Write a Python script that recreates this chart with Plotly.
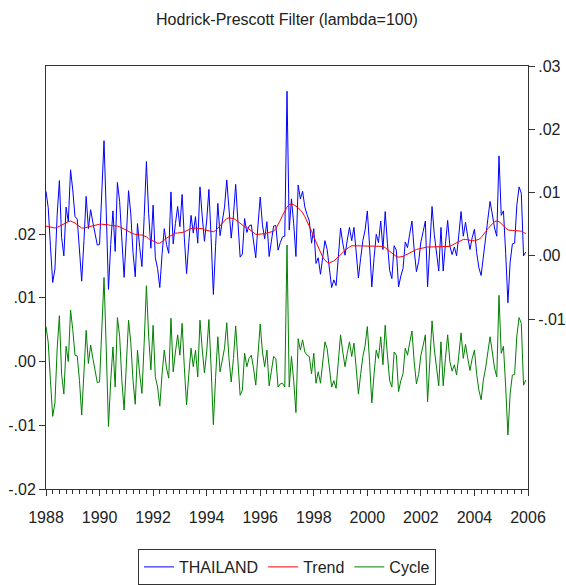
import plotly.graph_objects as go

# Monthly observations 1988M01 .. 2005M12, values in units of 0.001
START_YEAR = 1988
# HP cycle (left axis)
cycle_k = [
    5.5, 3.0, -3.0, -8.6, -6.5, 2.0, 7.2, -2.0, -5.1, 2.4, 0.0, 8.1,
    5.0, 1.0, 0.9, -3.0, -8.4, -2.0, 4.9, -0.3, 2.6, 0.5, -1.5, -3.3,
    -3.2, 4.0, 13.2, 2.0, -10.2, -3.0, 2.3, -4.0, 6.9, 4.0, -3.0, -7.6,
    -1.0, 6.5, 3.0, -3.0, -6.7, 1.8, -2.0, -5.0, 3.0, 11.9, 4.0, -1.3,
    5.7, -2.4, -4.0, -7.0, -2.0, 1.8, -1.0, -2.6, 6.8, -1.6, 1.5, 4.2,
    1.0, 6.0, -1.0, -6.8, -2.0, 2.1, -0.8, 1.8, -2.4, 6.5, 2.0, -1.8,
    1.5, 6.6, -1.0, -9.9, -2.5, 3.9, -1.6, 0.5, 2.1, 6.1, 0.5, -3.2,
    0.5, 5.6, 0.0, -5.3, -4.5, 1.3, -0.8, 0.5, 1.0, -1.0, -3.7, 1.5,
    5.9, 1.5, -0.8, 1.8, -3.8, -1.5, 0.8, 0.5, -4.0, -3.5, -3.4, -4.0,
    18.3, -4.0, 0.8, -3.0, -8.0, 3.6, 1.8, 3.4, 1.5, 1.0, 0.8, -1.9,
    1.3, -3.4, -1.6, -3.4, 0.0, 3.1, 2.0, -1.0, -4.0, -3.0, -4.2, 0.0,
    4.2, 1.5, -0.8, 1.3, 3.1, 0.8, 2.9, -1.0, -5.1, -2.0, 0.8, 2.5,
    5.5, 0.0, -6.5, -2.0, 1.8, 0.5, 3.9, -0.5, 5.7, 1.0, -3.0, -4.0,
    1.5, 1.0, -4.7, -3.0, -1.9, 2.1, 1.0, 3.0, 4.8, 0.0, -3.5, -2.0,
    1.0, 2.5, 4.2, -6.3, 1.0, 6.4, 2.0, -1.0, -3.8, 3.1, -3.8, 0.5,
    4.2, 0.0, -1.5, -0.5, -2.1, 1.0, 4.5, 0.5, 2.7, 0.5, -1.4, 0.5,
    1.8, -2.0, -4.5, -6.0, -2.9, -1.0, 1.5, 3.9, 1.5, -1.0, -2.4, 10.4,
    1.3, 2.4, -4.0, -11.5, -5.0, -2.1, -2.0, 4.0, 6.9, 6.0, -3.7, -2.9,
]
# HP trend (right axis)
trend_k = [
    4.7, 4.6, 4.5, 4.4, 4.4, 4.5, 4.7, 4.9, 5.1, 5.3, 5.4, 5.5,
    5.4, 5.2, 4.9, 4.6, 4.4, 4.4, 4.5, 4.6, 4.7, 4.8, 4.9, 5.0,
    5.0, 5.0, 5.0, 4.9, 4.9, 4.8, 4.8, 4.7, 4.7, 4.6, 4.4, 4.2,
    4.0, 3.8, 3.6, 3.5, 3.4, 3.3, 3.3, 3.3, 3.2, 3.0, 2.7, 2.5,
    2.3, 2.1, 2.0, 2.0, 2.2, 2.5, 2.8, 3.0, 3.3, 3.5, 3.6, 3.6,
    3.6, 3.7, 3.8, 4.0, 4.1, 4.3, 4.4, 4.4, 4.4, 4.4, 4.3, 4.1,
    4.0, 3.9, 3.8, 3.8, 4.0, 4.4, 4.8, 5.2, 5.6, 5.9, 6.0, 6.0,
    5.9, 5.7, 5.4, 5.1, 4.8, 4.6, 4.5, 4.2, 3.9, 3.6, 3.4, 3.4,
    3.4, 3.4, 3.5, 3.6, 3.7, 3.8, 3.9, 4.3, 4.9, 5.6, 6.4, 7.1,
    7.7, 8.1, 8.2, 8.1, 7.9, 7.6, 7.2, 6.8, 6.2, 5.5, 4.7, 3.9,
    3.0, 2.2, 1.3, 0.5, -0.2, -0.7, -1.0, -1.1, -1.0, -0.8, -0.5, -0.2,
    0.2, 0.5, 0.9, 1.2, 1.4, 1.6, 1.6, 1.6, 1.6, 1.6, 1.6, 1.6,
    1.6, 1.6, 1.6, 1.6, 1.6, 1.6, 1.6, 1.5, 1.3, 1.0, 0.7, 0.4,
    0.1, -0.1, -0.2, -0.2, -0.1, 0.1, 0.3, 0.5, 0.7, 0.9, 1.0, 1.1,
    1.2, 1.3, 1.3, 1.4, 1.4, 1.4, 1.4, 1.4, 1.4, 1.4, 1.4, 1.4,
    1.4, 1.5, 1.7, 1.9, 2.1, 2.3, 2.5, 2.6, 2.6, 2.5, 2.4, 2.4,
    2.4, 2.5, 2.6, 2.9, 3.3, 3.8, 4.3, 4.7, 5.1, 5.4, 5.5, 5.4,
    5.1, 4.7, 4.4, 4.1, 4.0, 4.0, 4.0, 4.0, 4.0, 3.9, 3.7, 3.5,
]
# Actual series THAILAND (right axis)
thailand_k = [
    10.2, 7.6, 1.5, -4.2, -2.1, 6.5, 11.9, 2.9, 0.0, 7.7, 5.4, 13.6,
    10.4, 6.2, 5.8, 1.6, -4.0, 2.4, 9.4, 4.3, 7.3, 5.3, 3.4, 1.7,
    1.8, 9.0, 18.2, 6.9, -5.3, 1.8, 7.1, 0.7, 11.6, 8.6, 1.4, -3.4,
    3.0, 10.3, 6.6, 0.5, -3.3, 5.1, 1.3, -1.7, 6.2, 14.9, 6.7, 1.2,
    8.0, -0.3, -2.0, -5.0, 0.2, 4.3, 1.8, 0.4, 10.1, 1.9, 5.1, 7.8,
    4.6, 9.7, 2.8, -2.8, 2.1, 6.4, 3.6, 6.2, 2.0, 10.9, 6.3, 2.3,
    5.5, 10.5, 2.8, -6.1, 1.5, 8.3, 3.2, 5.7, 7.7, 12.0, 6.5, 2.8,
    6.4, 11.3, 5.4, -0.2, 0.3, 5.9, 3.7, 4.7, 4.9, 2.6, -0.3, 4.9,
    9.3, 4.9, 2.7, 5.4, -0.1, 2.3, 4.7, 4.8, 0.9, 2.1, 3.0, 3.1,
    26.0, 4.1, 9.0, 5.1, -0.1, 11.2, 9.0, 10.2, 7.7, 6.5, 5.5, 2.0,
    4.3, -1.2, -0.3, -2.9, -0.2, 2.4, 1.0, -2.1, -5.0, -3.8, -4.7, -0.2,
    4.4, 2.0, 0.1, 2.5, 4.5, 2.4, 4.5, 0.6, -3.5, -0.4, 2.4, 4.1,
    7.1, 1.6, -4.9, -0.4, 3.4, 2.1, 5.5, 1.0, 7.0, 2.0, -2.3, -3.6,
    1.6, 0.9, -4.9, -3.2, -2.0, 2.2, 1.3, 3.5, 5.5, 0.9, -2.5, -0.9,
    2.2, 3.8, 5.5, -4.9, 2.4, 7.8, 3.4, 0.4, -2.4, 4.5, -2.4, 1.9,
    5.6, 1.5, 0.2, 1.4, 0.0, 3.3, 7.0, 3.1, 5.3, 3.0, 1.0, 2.9,
    4.2, 0.5, -1.9, -3.1, 0.4, 2.8, 5.8, 8.6, 6.6, 4.4, 3.1, 15.8,
    6.4, 7.1, 0.4, -7.4, -1.0, 1.9, 2.0, 8.0, 10.9, 9.9, 0.0, 0.6,
]

x_years = [START_YEAR + m / 12 for m in range(len(cycle_k))]
cycle = [v / 1000 for v in cycle_k]
trend = [v / 1000 for v in trend_k]
thailand = [v / 1000 for v in thailand_k]

x_tickvals = list(range(1988, 2007, 2))
x_ticktext = [str(v) for v in x_tickvals]
left_tickvals = [-0.02, -0.01, 0.0, 0.01, 0.02]
left_ticktext = ["-.02", "-.01", ".00", ".01", ".02"]
right_tickvals = [-0.01, 0.0, 0.01, 0.02, 0.03]
right_ticktext = ["-.01", ".00", ".01", ".02", ".03"]

FONT = "Liberation Sans Narrow, Arial Narrow, Liberation Sans, Arial, sans-serif"
TXT = "#222222"
AX = "#333333"

fig = go.Figure()
fig.add_trace(go.Scatter(x=x_years, y=thailand, mode="lines", name="THAILAND",
                         line=dict(color="#0000FF", width=1), yaxis="y2"))
fig.add_trace(go.Scatter(x=x_years, y=trend, mode="lines", name="Trend",
                         line=dict(color="#FF0000", width=1), yaxis="y2"))
fig.add_trace(go.Scatter(x=x_years, y=cycle, mode="lines", name="Cycle",
                         line=dict(color="#008000", width=1), yaxis="y"))

fig.update_layout(
    width=566, height=585,
    margin=dict(l=46, r=38, t=66, b=96, autoexpand=False),
    paper_bgcolor="white", plot_bgcolor="white",
    font=dict(family=FONT, size=16, color=TXT),
    title=dict(text="Hodrick-Prescott Filter (lambda=100)", x=0.5, xref="paper",
               xanchor="center", y=1 - 19 / 585, yanchor="middle",
               font=dict(family=FONT, size=16, color=TXT)),
    showlegend=True,
    legend=dict(orientation="h", x=0.5, xref="paper", xanchor="center",
                y=1 - 549 / 585, yref="container", yanchor="top",
                bordercolor=AX, borderwidth=1, bgcolor="white",
                font=dict(family=FONT, size=16, color=TXT),
                traceorder="normal", itemwidth=30, tracegroupgap=0),
    xaxis=dict(range=[1988.0, 2006.0], tickmode="array", tickvals=x_tickvals,
               ticktext=x_ticktext, ticks="outside", ticklen=6, tickcolor=AX,
               ticklabelstandoff=8,
               showline=True, linecolor=AX, linewidth=1, mirror=True,
               showgrid=False, zeroline=False,
               minor=dict(dtick=0.25, tick0=1988, ticks="outside", ticklen=4,
                          tickcolor=AX, showgrid=False)),
    yaxis=dict(range=[-0.02, 0.0464], tickmode="array", tickvals=left_tickvals,
               ticktext=left_ticktext, ticks="outside", ticklen=6, tickcolor=AX,
               showline=True, linecolor=AX, linewidth=1,
               showgrid=False, zeroline=False),
    yaxis2=dict(range=[-0.03684, 0.03], tickmode="array", tickvals=right_tickvals,
                ticktext=right_ticktext, ticks="outside", ticklen=6, tickcolor=AX,
                showline=True, linecolor=AX, linewidth=1,
                overlaying="y", side="right", showgrid=False, zeroline=False),
)

fig.write_html("out.html")
